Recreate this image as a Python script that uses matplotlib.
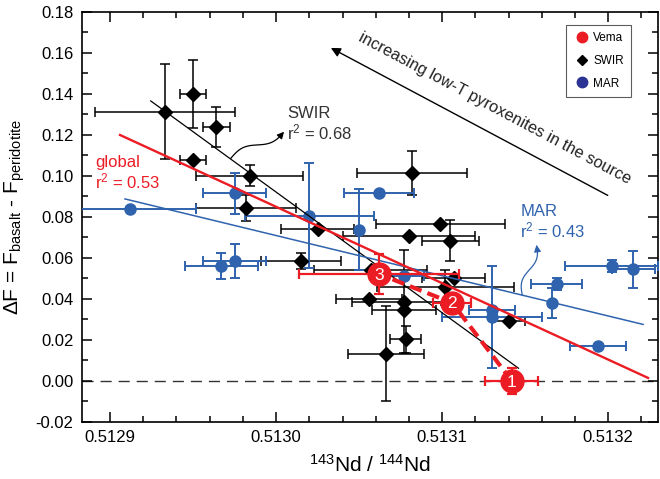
import numpy as np
import matplotlib
matplotlib.use("Agg")
import matplotlib.pyplot as plt
from matplotlib.lines import Line2D
from matplotlib.ticker import MultipleLocator, FormatStrFormatter
from matplotlib.transforms import IdentityTransform

plt.rcParams['font.family'] = ['Liberation Sans', 'DejaVu Sans']
plt.rcParams['axes.unicode_minus'] = False
plt.rcParams['mathtext.fontset'] = 'custom'
plt.rcParams['mathtext.rm'] = 'Liberation Sans'
plt.rcParams['mathtext.it'] = 'Liberation Sans'

RED = '#ec1c24'
BLUE = '#2f63ae'
NAVY = '#2b3494'

# SWIR (black diamonds)
swir_nd = [0.512933, 0.512950, 0.512964, 0.512950, 0.512984, 0.512982, 0.513025,
           0.513082, 0.513099, 0.513080, 0.513105, 0.513015, 0.513057, 0.513107,
           0.513102, 0.513056, 0.513077, 0.513077, 0.513078, 0.513066, 0.513140]
swir_df = [0.1314, 0.1400, 0.1240, 0.1078, 0.1002, 0.0842, 0.0741,
           0.1013, 0.0764, 0.0709, 0.0683, 0.0585, 0.0541, 0.0501,
           0.0457, 0.0398, 0.0387, 0.0346, 0.0203, 0.0132, 0.0291]
swir_xerr = [4.2e-5, 0.8e-5, 0.8e-5, 0.8e-5, 3.2e-5, 3.0e-5, 2.2e-5,
             3.3e-5, 3.9e-5, 4.0e-5, 1.7e-5, 2.4e-5, 3.4e-5, 1.9e-5,
             4.1e-5, 2.0e-5, 3.1e-5, 1.9e-5, 0.95e-5, 2.3e-5, 1.0e-5]
swir_yerr = [0.023, 0.0168, 0.0098, 0.0, 0.0053, 0.0063, 0.0,
             0.0107, 0.0, 0.0, 0.010, 0.0037, 0.0, 0.0,
             0.0085, 0.0, 0.025, 0.0, 0.0065, 0.0232, 0.0]

# MAR (blue circles)
mar_nd = [0.512912, 0.512975, 0.513020, 0.513050, 0.513062, 0.512967, 0.512975,
          0.513077, 0.513130, 0.513130, 0.513166, 0.513169, 0.513202, 0.513215,
          0.513194]
mar_df = [0.0839, 0.0916, 0.0805, 0.0737, 0.0919, 0.0561, 0.0585,
          0.0512, 0.0346, 0.0311, 0.0379, 0.0472, 0.0562, 0.0545,
          0.0171]
mar_xerr = [4.0e-5, 1.9e-5, 3.9e-5, 0.0, 2.1e-5, 2.2e-5, 1.9e-5,
            1.2e-5, 1.4e-5, 3.0e-5, 0.0, 1.55e-5, 2.8e-5, 1.3e-5,
            1.7e-5]
mar_yerr = [0.0, 0.0099, 0.0256, 0.0198, 0.0, 0.0065, 0.0085,
            0.0, 0.0, 0.025, 0.0073, 0.003, 0.003, 0.0089,
            0.0]

# Vema (numbered red circles)
vema_labels = ['1', '2', '3']
vema_nd = [0.513142, 0.513106, 0.513062]
vema_df = [0.0, 0.0381, 0.0522]
vema_xerr = [1.6e-5, 1.15e-5, 4.8e-5]
vema_yerr = [0.0063, 0.0, 0.0099]

# regression lines (end points)
global_fit_x = [0.512906, 0.513224]
global_fit_y = [0.1200, 0.0015]
swir_fit_x = [0.5129245, 0.513146]
swir_fit_y = [0.1366, 0.0062]
mar_fit_x = [0.512909, 0.513221]
mar_fit_y = [0.0888, 0.0276]

fig = plt.figure(figsize=(6.6, 4.79), dpi=100)
ax = fig.add_axes([0.124, 0.119, 0.873, 0.856])

ax.axhline(0, color='#333333', lw=1.0, ls=(0, (8, 5)), zorder=1)

ax.errorbar(swir_nd, swir_df, xerr=swir_xerr, yerr=swir_yerr, fmt='D', color='black',
            ms=7.5, elinewidth=1.1, capsize=3.5, capthick=1.1, zorder=3)
ax.errorbar(mar_nd, mar_df, xerr=mar_xerr, yerr=mar_yerr, fmt='o', color=BLUE,
            ms=8, elinewidth=1.4, capsize=3.5, capthick=1.4, zorder=3)

ax.plot(swir_fit_x, swir_fit_y, color='black', lw=0.9, zorder=4)
ax.plot(mar_fit_x, mar_fit_y, color=BLUE, lw=1.1, zorder=4)
ax.plot(global_fit_x, global_fit_y, color=RED, lw=1.7, zorder=4)

ax.errorbar(vema_nd, vema_df, xerr=vema_xerr, yerr=vema_yerr, fmt='none', ecolor=RED,
            elinewidth=1.6, capsize=3.5, capthick=1.6, zorder=5)
ax.plot(vema_nd, vema_df, color=RED, lw=3, ls=(0, (3, 1.5)), zorder=5)
ax.plot(vema_nd, vema_df, 'o', color=RED, ms=16.5, zorder=6)
for lab, xv, yv in zip(vema_labels, vema_nd, vema_df):
    ax.text(xv, yv - 0.0005, lab, color='white', fontsize=12.5, ha='center', va='center', zorder=7)

ax.set_xlim(0.512883, 0.51323)
ax.set_ylim(-0.02, 0.18)
ax.xaxis.set_major_locator(MultipleLocator(0.0001))
ax.xaxis.set_minor_locator(MultipleLocator(0.00002))
ax.yaxis.set_major_locator(MultipleLocator(0.02))
ax.yaxis.set_minor_locator(MultipleLocator(0.01))
ax.xaxis.set_major_formatter(FormatStrFormatter('%.4f'))
ax.yaxis.set_major_formatter(FormatStrFormatter('%.2f'))
ax.tick_params(which='both', direction='in', top=True, right=True, labelsize=12, width=1.1)
ax.tick_params(which='major', length=7, pad=6)
ax.tick_params(which='minor', length=4)
for s in ax.spines.values():
    s.set_linewidth(1.2)

ax.set_xlabel(r'$^{143}$Nd / $^{144}$Nd', fontsize=15, labelpad=6)
ax.set_ylabel(r'$\Delta$F = F$_{\mathrm{basalt}}$ - F$_{\mathrm{peridotite}}$', fontsize=15, labelpad=6)

# annotations
ax.text(0.5130066, 0.1254, 'SWIR\n' + r'r$^2$ = 0.68', color='#333333', fontsize=12,
        ha='left', va='center', linespacing=1.1)
ax.text(0.5128910, 0.1015, 'global\n' + r'r$^2$ = 0.53', color=RED, fontsize=12,
        ha='left', va='center', linespacing=1.1)
ax.text(0.5131470, 0.0776, 'MAR\n' + r'r$^2$ = 0.43', color=BLUE, fontsize=12,
        ha='left', va='center', linespacing=1.1)

ax.annotate('', xy=(0.5130315, 0.1631), xytext=(0.5132012, 0.0899),
            arrowprops=dict(arrowstyle='-|>', color='black', lw=1.0, mutation_scale=14))
ax.text(0.5131319, 0.1331, 'increasing low-T pyroxenites in the source', fontsize=11.8,
        color='#222222', rotation=-28, ha='center', va='center', rotation_mode='anchor')


def wavy_arrow(p0, p1, color, amp=4.0):
    fig.canvas.draw()
    a = ax.transData.transform(p0)
    b = ax.transData.transform(p1)
    t = np.linspace(0, 1, 60)
    d = b - a
    n = np.array([-d[1], d[0]]) / np.hypot(*d)
    pts = a[None, :] + t[:, None] * d[None, :] + (amp * np.sin(2 * np.pi * t))[:, None] * n[None, :]
    ax.plot(pts[:-4, 0], pts[:-4, 1], color=color, lw=0.9, transform=IdentityTransform(), zorder=5)
    ax.annotate('', xy=pts[-1], xytext=pts[-6], xycoords=IdentityTransform(),
                textcoords=IdentityTransform(),
                arrowprops=dict(arrowstyle='-|>', color=color, lw=0.9, mutation_scale=10))


wavy_arrow((0.5129728, 0.1087), (0.5130048, 0.1216), 'black')
wavy_arrow((0.5131482, 0.0420), (0.5131568, 0.0664), BLUE)

handles = [Line2D([], [], marker='o', ls='none', color=RED, ms=7.5),
           Line2D([], [], marker='D', ls='none', color='black', ms=5),
           Line2D([], [], marker='o', ls='none', color=NAVY, ms=7.5)]
leg = ax.legend(handles, ['Vema', 'SWIR', 'MAR'], loc='upper right',
                bbox_to_anchor=(0.963, 0.982), fontsize=8.5, frameon=True, fancybox=False,
                edgecolor='#333333', handletextpad=0.2, borderpad=0.6, labelspacing=0.9,
                handlelength=1.5)
leg.get_frame().set_linewidth(0.8)

fig.savefig('out.png', dpi=100)
